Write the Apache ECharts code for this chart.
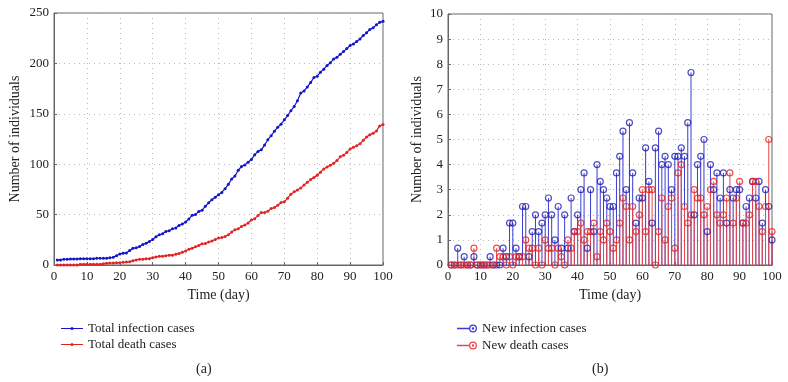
<!DOCTYPE html>
<html>
<head>
<meta charset="utf-8">
<script src="https://cdn.jsdelivr.net/npm/echarts@6/dist/echarts.min.js"></script>
<style>
  html, body { margin: 0; padding: 0; background: #fff; }
  #chart { width: 788px; height: 382px; }
</style>
</head>
<body>
<div id="chart"></div>
<script>
  // days 1..100
  const days = Array.from({ length: 100 }, (_, i) => i + 1);

  // (a) cumulative totals
  const totalInfection = [
    5, 5, 5.7, 5.7, 6, 6, 6, 6.3, 6.3, 6.3,
    6.3, 6.3, 6.7, 6.7, 6.7, 6.7, 7.3, 7.7, 9.3, 11,
    11.7, 12, 14.3, 16.7, 17, 18.3, 20.3, 21.7, 23.3, 25.3,
    28, 30, 31, 33.3, 34, 36, 36.7, 39.3, 40.7, 42.7,
    45.7, 49.3, 50, 53, 54.3, 58.3, 61.7, 64.7, 67.3, 69.7,
    72, 75.7, 80, 85.3, 88.3, 94, 97.7, 99.3, 102, 104.7,
    109.3, 112.7, 114.3, 119, 124.3, 128.3, 132.7, 136.7, 139.7, 144,
    148.3, 153, 157.3, 163, 170.7, 172.7, 176.7, 181, 186, 187.3,
    191.3, 194.3, 198, 200.7, 204.3, 206, 209, 211.7, 214.7, 217.7,
    219.3, 221.7, 224.3, 227.7, 230.3, 233.7, 235.3, 238.3, 240.7, 241.7
  ];
  const totalDeath = [
    0, 0, 0, 0, 0, 0, 0, 0.7, 0.7, 0.7,
    0.7, 0.7, 0.7, 0.7, 1.3, 1.7, 2, 2, 2.3, 2.3,
    2.7, 3, 3.3, 4.3, 5, 5.7, 5.7, 6.3, 6.3, 7.3,
    8, 8.7, 8.7, 9.3, 9.7, 9.7, 10.7, 11.3, 12.7, 14,
    15.7, 16.7, 18, 19.3, 21, 21.3, 22.7, 23.7, 25.3, 26.7,
    27.3, 28.3, 30, 32.7, 35, 36, 38.3, 39.7, 41.7, 44.7,
    46, 49, 52, 52, 53.3, 56, 57, 59.3, 62, 62.7,
    66.3, 70.3, 72.7, 74.3, 76.3, 79.3, 82, 84.7, 86.7, 89,
    92, 95.3, 97.3, 99, 101, 103.7, 107.3, 109, 111.7, 115,
    116.7, 118.3, 120.3, 123.7, 127, 129.3, 130.7, 133, 138, 139.3
  ];

  // (b) daily new cases
  const newInfection = [
    0, 0, 0.67, 0, 0.33, 0, 0, 0.33, 0, 0,
    0, 0, 0.33, 0, 0, 0, 0.67, 0.33, 1.67, 1.67,
    0.67, 0.33, 2.33, 2.33, 0.33, 1.33, 2, 1.33, 1.67, 2,
    2.67, 2, 1, 2.33, 0.67, 2, 0.67, 2.67, 1.33, 2,
    3, 3.67, 0.67, 3, 1.33, 4, 3.33, 3, 2.67, 2.33,
    2.33, 3.67, 4.33, 5.33, 3, 5.67, 3.67, 1.67, 2.67, 2.67,
    4.67, 3.33, 1.67, 4.67, 5.33, 4, 4.33, 4, 3, 4.33,
    4.33, 4.67, 4.33, 5.67, 7.67, 2, 4, 4.33, 5, 1.33,
    4, 3, 3.67, 2.67, 3.67, 1.67, 3, 2.67, 3, 3,
    1.67, 2.33, 2.67, 3.33, 2.67, 3.33, 1.67, 3, 2.33, 1
  ];
  const newDeath = [
    0, 0, 0, 0, 0, 0, 0, 0.67, 0, 0,
    0, 0, 0, 0, 0.67, 0.33, 0.33, 0, 0.33, 0,
    0.33, 0.33, 0.33, 1, 0.67, 0.67, 0, 0.67, 0, 1,
    0.67, 0.67, 0, 0.67, 0.33, 0, 1, 0.67, 1.33, 1.33,
    1.67, 1, 1.33, 1.33, 1.67, 0.33, 1.33, 1, 1.67, 1.33,
    0.67, 1, 1.67, 2.67, 2.33, 1, 2.33, 1.33, 2, 3,
    1.33, 3, 3, 0, 1.33, 2.67, 1, 2.33, 2.67, 0.67,
    3.67, 4, 2.33, 1.67, 2, 3, 2.67, 2.67, 2, 2.33,
    3, 3.33, 2, 1.67, 2, 2.67, 3.67, 1.67, 2.67, 3.33,
    1.67, 1.67, 2, 3.33, 3.33, 2.33, 1.33, 2.33, 5, 1.33
  ];

  const blue = '#1414c8';
  const red = '#e02424';
  const stemBlue = '#3c3cd2';
  const stemRed = '#e84848';
  const font = 'Liberation Serif';

  // legend icons: thin line with dot (a), line ending in ringed circle (b)
  const dotIcon = 'path://M0,1 L22,1 L22,2 L0,2 Z M12.5,1.5 A1.5,1.5 0 1,1 9.5,1.5 A1.5,1.5 0 1,1 12.5,1.5 Z';
  const stemIcon = 'path://M0,3.3 L12.5,3.3 L12.5,4.7 L0,4.7 Z' +
    'M20,4 A4,4 0 1,1 12,4 A4,4 0 1,1 20,4 Z' +
    'M18.7,4 A2.7,2.7 0 1,0 13.3,4 A2.7,2.7 0 1,0 18.7,4 Z' +
    'M17.2,4 A1.2,1.2 0 1,1 14.8,4 A1.2,1.2 0 1,1 17.2,4 Z';

  const chart = echarts.init(document.getElementById('chart'));

  const xAxisBase = (gridIndex) => ({
    gridIndex,
    type: 'value',
    min: 0,
    max: 100,
    interval: 10,
    name: 'Time (day)',
    nameLocation: 'middle',
    nameGap: 22,
    nameTextStyle: { fontFamily: font, fontSize: 14, color: '#222' },
    axisLine: { lineStyle: { color: '#666' } },
    axisTick: { inside: true, length: 3, lineStyle: { color: '#666' } },
    axisLabel: { fontFamily: font, fontSize: 13, color: '#222', margin: 5 },
    splitLine: { show: true, lineStyle: { color: '#bbb', type: [1, 4] } },
  });

  const yAxisBase = (gridIndex, max, interval, nameGap) => ({
    gridIndex,
    type: 'value',
    min: 0,
    max,
    interval,
    name: 'Number of individuals',
    nameLocation: 'middle',
    nameGap,
    nameTextStyle: { fontFamily: font, fontSize: 14, color: '#222' },
    axisLine: { show: true, lineStyle: { color: '#666' } },
    axisTick: { show: true, inside: true, length: 3, lineStyle: { color: '#666' } },
    axisLabel: { fontFamily: font, fontSize: 13, color: '#222', margin: 5 },
    splitLine: { show: true, lineStyle: { color: '#bbb', type: [1, 4] } },
  });

  const stem = (name, values, color) => ({
    name,
    type: 'custom',
    xAxisIndex: 1,
    yAxisIndex: 1,
    itemStyle: { color },
    data: days.map((d, i) => [d, values[i]]),
    renderItem: (params, api) => {
      const top = api.coord([api.value(0), api.value(1)]);
      const base = api.coord([api.value(0), 0]);
      return {
        type: 'line',
        shape: { x1: base[0], y1: base[1], x2: top[0], y2: top[1] },
        style: { stroke: color, lineWidth: 1 },
      };
    },
  });

  const heads = (name, values, color) => ({
    name,
    type: 'scatter',
    xAxisIndex: 1,
    yAxisIndex: 1,
    symbol: 'circle',
    symbolSize: 6,
    itemStyle: { color: 'rgba(255,255,255,0)', borderColor: color, borderWidth: 1.2 },
    data: days.map((d, i) => [d, values[i]]),
  });

  chart.setOption({
    animation: false,
    title: [
      { text: '(a)', left: 191, top: 357, textStyle: { fontFamily: font, fontSize: 14, fontWeight: 'normal', color: '#222' } },
      { text: '(b)', left: 587, top: 357, textStyle: { fontFamily: font, fontSize: 14, fontWeight: 'normal', color: '#222' } },
    ],
    legend: [
      {
        left: 56,
        top: 317,
        orient: 'vertical',
        itemGap: 3,
        itemWidth: 22,
        itemHeight: 3,
        textStyle: { fontFamily: font, fontSize: 13, color: '#222' },
        data: [
          { name: 'Total infection cases', icon: dotIcon },
          { name: 'Total death cases', icon: dotIcon },
        ],
      },
      {
        left: 452,
        top: 317,
        orient: 'vertical',
        itemGap: 4,
        itemWidth: 20,
        itemHeight: 8,
        textStyle: { fontFamily: font, fontSize: 13, color: '#222' },
        data: [
          { name: 'New infection cases', icon: stemIcon },
          { name: 'New death cases', icon: stemIcon },
        ],
      },
    ],
    grid: [
      { left: 54, right: 405, top: 13, bottom: 117, show: true, borderColor: '#666', borderWidth: 1 },
      { left: 448, right: 16, top: 14, bottom: 117, show: true, borderColor: '#666', borderWidth: 1 },
    ],
    xAxis: [xAxisBase(0), xAxisBase(1)],
    yAxis: [yAxisBase(0, 250, 50, 32), yAxisBase(1, 10, 1, 24)],
    series: [
      {
        name: 'Total infection cases',
        type: 'line',
        xAxisIndex: 0,
        yAxisIndex: 0,
        symbol: 'circle',
        symbolSize: 3,
        lineStyle: { color: blue, width: 1.2 },
        itemStyle: { color: blue },
        data: days.map((d, i) => [d, totalInfection[i]]),
      },
      {
        name: 'Total death cases',
        type: 'line',
        xAxisIndex: 0,
        yAxisIndex: 0,
        symbol: 'circle',
        symbolSize: 3,
        lineStyle: { color: red, width: 1.2 },
        itemStyle: { color: red },
        data: days.map((d, i) => [d, totalDeath[i]]),
      },
      stem('New infection cases', newInfection, stemBlue),
      heads('New infection cases', newInfection, '#2020b4'),
      stem('New death cases', newDeath, stemRed),
      heads('New death cases', newDeath, red),
    ],
  });
</script>
</body>
</html>
